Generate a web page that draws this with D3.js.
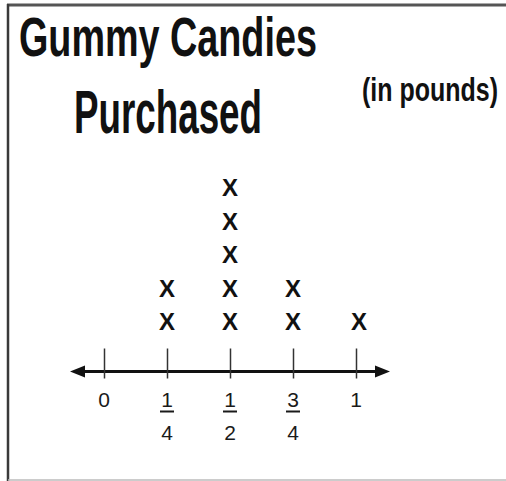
<!DOCTYPE html>
<html>
<head>
<meta charset="utf-8">
<script src="https://cdn.jsdelivr.net/npm/d3@7"></script>
<style>
  body { margin: 0; background: #fff; }
  text { font-family: "Liberation Sans", Arial, sans-serif; }
</style>
</head>
<body>
<div id="chart"></div>
<script>
// data: pounds of gummy candies bought, one X per purchase
var tickValues = [0, 0.25, 0.5, 0.75, 1];
var tickNums = ["0", "1", "1", "3", "1"];
var tickDens = [null, "4", "2", "4", null];
var amounts = [0.25, 0.5, 0.75, 1];
var counts = [2, 5, 2, 1];

var width = 506, height = 481;
var axisY = 371.5;

var svg = d3.select("#chart").append("svg")
  .attr("width", width)
  .attr("height", height);

// frame
svg.append("line").attr("x1", 7).attr("x2", width).attr("y1", 5).attr("y2", 5)
  .attr("stroke", "#555").attr("stroke-width", 3);
svg.append("line").attr("x1", 8).attr("x2", 8).attr("y1", 4).attr("y2", height)
  .attr("stroke", "#3a3a3a").attr("stroke-width", 2.5);
svg.append("line").attr("x1", 8).attr("x2", width).attr("y1", 480).attr("y2", 480)
  .attr("stroke", "#bbb").attr("stroke-width", 1.5);

// titles, squeezed horizontally to look like a narrow face
function narrowText(str, x0, y0, size, w) {
  var t = svg.append("text")
    .style("font-size", size + "px").style("font-weight", "bold")
    .attr("fill", "#111")
    .text(str);
  var sx = w / t.node().getComputedTextLength();
  t.attr("transform", "translate(" + x0 + "," + y0 + ") scale(" + sx + ",1)");
}
narrowText("Gummy Candies", 19, 56, 55, 298);
narrowText("Purchased", 74, 133, 61, 188);
narrowText("(in pounds)", 362, 101, 34, 136);

var x = d3.scaleLinear().domain([0, 1]).range([104, 356]);
var y = d3.scaleLinear().domain([1, 5]).range([330, 196]);

// number line with arrows
var lo = x.invert(70), hi = x.invert(390);
svg.append("line")
  .attr("x1", x(lo) + 8).attr("x2", x(hi) - 8)
  .attr("y1", axisY).attr("y2", axisY)
  .attr("stroke", "#111").attr("stroke-width", 3);
svg.append("path")
  .attr("d", "M" + x(lo) + "," + axisY + "L" + (x(lo) + 15) + "," + (axisY - 6) + "L" + (x(lo) + 15) + "," + (axisY + 6) + "Z")
  .attr("fill", "#111");
svg.append("path")
  .attr("d", "M" + x(hi) + "," + axisY + "L" + (x(hi) - 15) + "," + (axisY - 6) + "L" + (x(hi) - 15) + "," + (axisY + 6) + "Z")
  .attr("fill", "#111");

var axis = svg.append("g")
  .attr("transform", "translate(0," + axisY + ")")
  .call(d3.axisBottom(x).tickValues(tickValues).tickSize(7).tickFormat(""));
axis.select(".domain").remove();
axis.selectAll(".tick line")
  .attr("y1", -23).attr("y2", 7)
  .attr("stroke", "#333").attr("stroke-width", 1.5);

// fraction labels
var labels = svg.selectAll(".lab")
  .data(tickValues)
  .enter().append("g")
  .attr("class", "lab")
  .attr("transform", function (d) { return "translate(" + x(d) + ",0)"; });
labels.append("text")
  .attr("y", 407)
  .attr("text-anchor", "middle")
  .style("font-size", "21px").attr("fill", "#1a1a1a")
  .text(function (d, i) { return tickNums[i]; });
labels.filter(function (d, i) { return tickDens[i]; })
  .append("line")
  .attr("x1", -7).attr("x2", 7).attr("y1", 411.5).attr("y2", 411.5)
  .attr("stroke", "#1a1a1a").attr("stroke-width", 2);
labels.filter(function (d, i) { return tickDens[i]; })
  .append("text")
  .attr("y", 440)
  .attr("text-anchor", "middle")
  .style("font-size", "21px").attr("fill", "#1a1a1a")
  .text(function (d) { return tickDens[tickValues.indexOf(d)]; });

// X marks
var marks = [];
amounts.forEach(function (a, i) {
  for (var k = 1; k <= counts[i]; k++) marks.push({ v: a, n: k });
});
svg.selectAll(".mark")
  .data(marks)
  .enter().append("text")
  .attr("class", "mark")
  .attr("x", function (d) { return x(d.v) + (d.v === 1 ? 3 : 0); })
  .attr("y", function (d) { return y(d.n); })
  .attr("text-anchor", "middle")
  .style("font-size", "24px").style("font-weight", "bold").attr("fill", "#111")
  .text("X");
</script>
</body>
</html>
